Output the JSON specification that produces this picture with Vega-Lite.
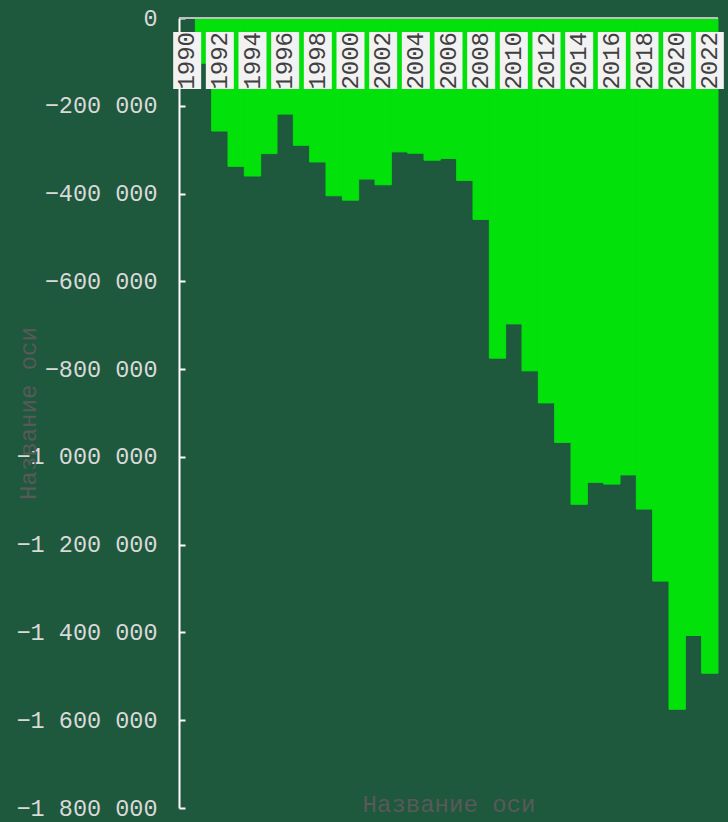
{
  "$schema": "https://vega.github.io/schema/vega-lite/v6.json",
  "width": 539,
  "height": 790,
  "autosize": {"type": "none"},
  "padding": {"left": 179, "top": 18, "right": 10, "bottom": 14},
  "background": "#1E583D",
  "config": {
    "view": {"stroke": null},
    "locale": {"number": {"decimal": ",", "thousands": " ", "grouping": [3], "currency": ["", ""]}},
    "font": "Liberation Mono"
  },
  "data": {
    "values": [
      {"year": 1990, "value": 0},
      {"year": 1991, "value": -103000},
      {"year": 1992, "value": -257500},
      {"year": 1993, "value": -338000},
      {"year": 1994, "value": -360000},
      {"year": 1995, "value": -309000},
      {"year": 1996, "value": -219000},
      {"year": 1997, "value": -290000},
      {"year": 1998, "value": -328000},
      {"year": 1999, "value": -405000},
      {"year": 2000, "value": -415000},
      {"year": 2001, "value": -367000},
      {"year": 2002, "value": -380000},
      {"year": 2003, "value": -305000},
      {"year": 2004, "value": -308000},
      {"year": 2005, "value": -324000},
      {"year": 2006, "value": -320000},
      {"year": 2007, "value": -370000},
      {"year": 2008, "value": -459000},
      {"year": 2009, "value": -775000},
      {"year": 2010, "value": -697000},
      {"year": 2011, "value": -804000},
      {"year": 2012, "value": -877000},
      {"year": 2013, "value": -967000},
      {"year": 2014, "value": -1108000},
      {"year": 2015, "value": -1058000},
      {"year": 2016, "value": -1062000},
      {"year": 2017, "value": -1041000},
      {"year": 2018, "value": -1119000},
      {"year": 2019, "value": -1283000},
      {"year": 2020, "value": -1575000},
      {"year": 2021, "value": -1407000},
      {"year": 2022, "value": -1493000}
    ]
  },
  "encoding": {
    "x": {
      "field": "year",
      "type": "ordinal",
      "scale": {"paddingInner": 0, "paddingOuter": 0},
      "axis": {
        "orient": "bottom",
        "labels": false,
        "ticks": false,
        "domain": false,
        "title": "Название оси",
        "titleFont": "Liberation Mono",
        "titleFontSize": 24,
        "titleFontWeight": "normal",
        "titleColor": "#595959",
        "titleY": 3,
        "titleBaseline": "alphabetic"
      }
    }
  },
  "layer": [
    {
      "mark": {"type": "bar", "color": "#03E10B", "stroke": "#03E10B", "strokeWidth": 1},
      "encoding": {
        "y": {
          "field": "value",
          "type": "quantitative",
          "scale": {"domain": [-1800000, 0], "nice": false, "zero": false},
          "axis": {
            "values": [0, -200000, -400000, -600000, -800000, -1000000, -1200000, -1400000, -1600000, -1800000],
            "grid": false,
            "domainColor": "#FFFFFF",
            "domainWidth": 2,
            "tickColor": "#FFFFFF",
            "tickWidth": 2,
            "tickSize": -6,
            "labelPadding": 28,
            "labelFont": "Liberation Mono",
            "labelFontSize": 23.5,
            "labelColor": "#D9D9D9",
            "labelFlush": false,
            "labelOverlap": false,
            "title": "Название оси",
            "titleFont": "Liberation Mono",
            "titleFontSize": 24,
            "titleFontWeight": "normal",
            "titleColor": "#595959",
            "titleX": -151,
            "titleY": 395,
            "titleAngle": -90,
            "titleAlign": "center",
            "titleBaseline": "middle"
          }
        }
      }
    },
    {
      "mark": {"type": "rule", "color": "#BFBFBF", "strokeWidth": 2},
      "encoding": {"y": {"datum": 0}, "x": null}
    },
    {
      "transform": [{"filter": "datum.year % 2 == 0"}],
      "mark": {"type": "bar", "color": "#F2F2F2", "width": 28},
      "encoding": {
        "y": {"datum": -31900},
        "y2": {"datum": -161800}
      }
    },
    {
      "transform": [{"filter": "datum.year % 2 == 0"}],
      "mark": {"type": "text", "angle": 270, "align": "right", "baseline": "middle", "font": "Liberation Mono", "fontSize": 24, "color": "#404040"},
      "encoding": {
        "y": {"datum": -31900},
        "text": {"field": "year", "type": "nominal"}
      }
    }
  ]
}
